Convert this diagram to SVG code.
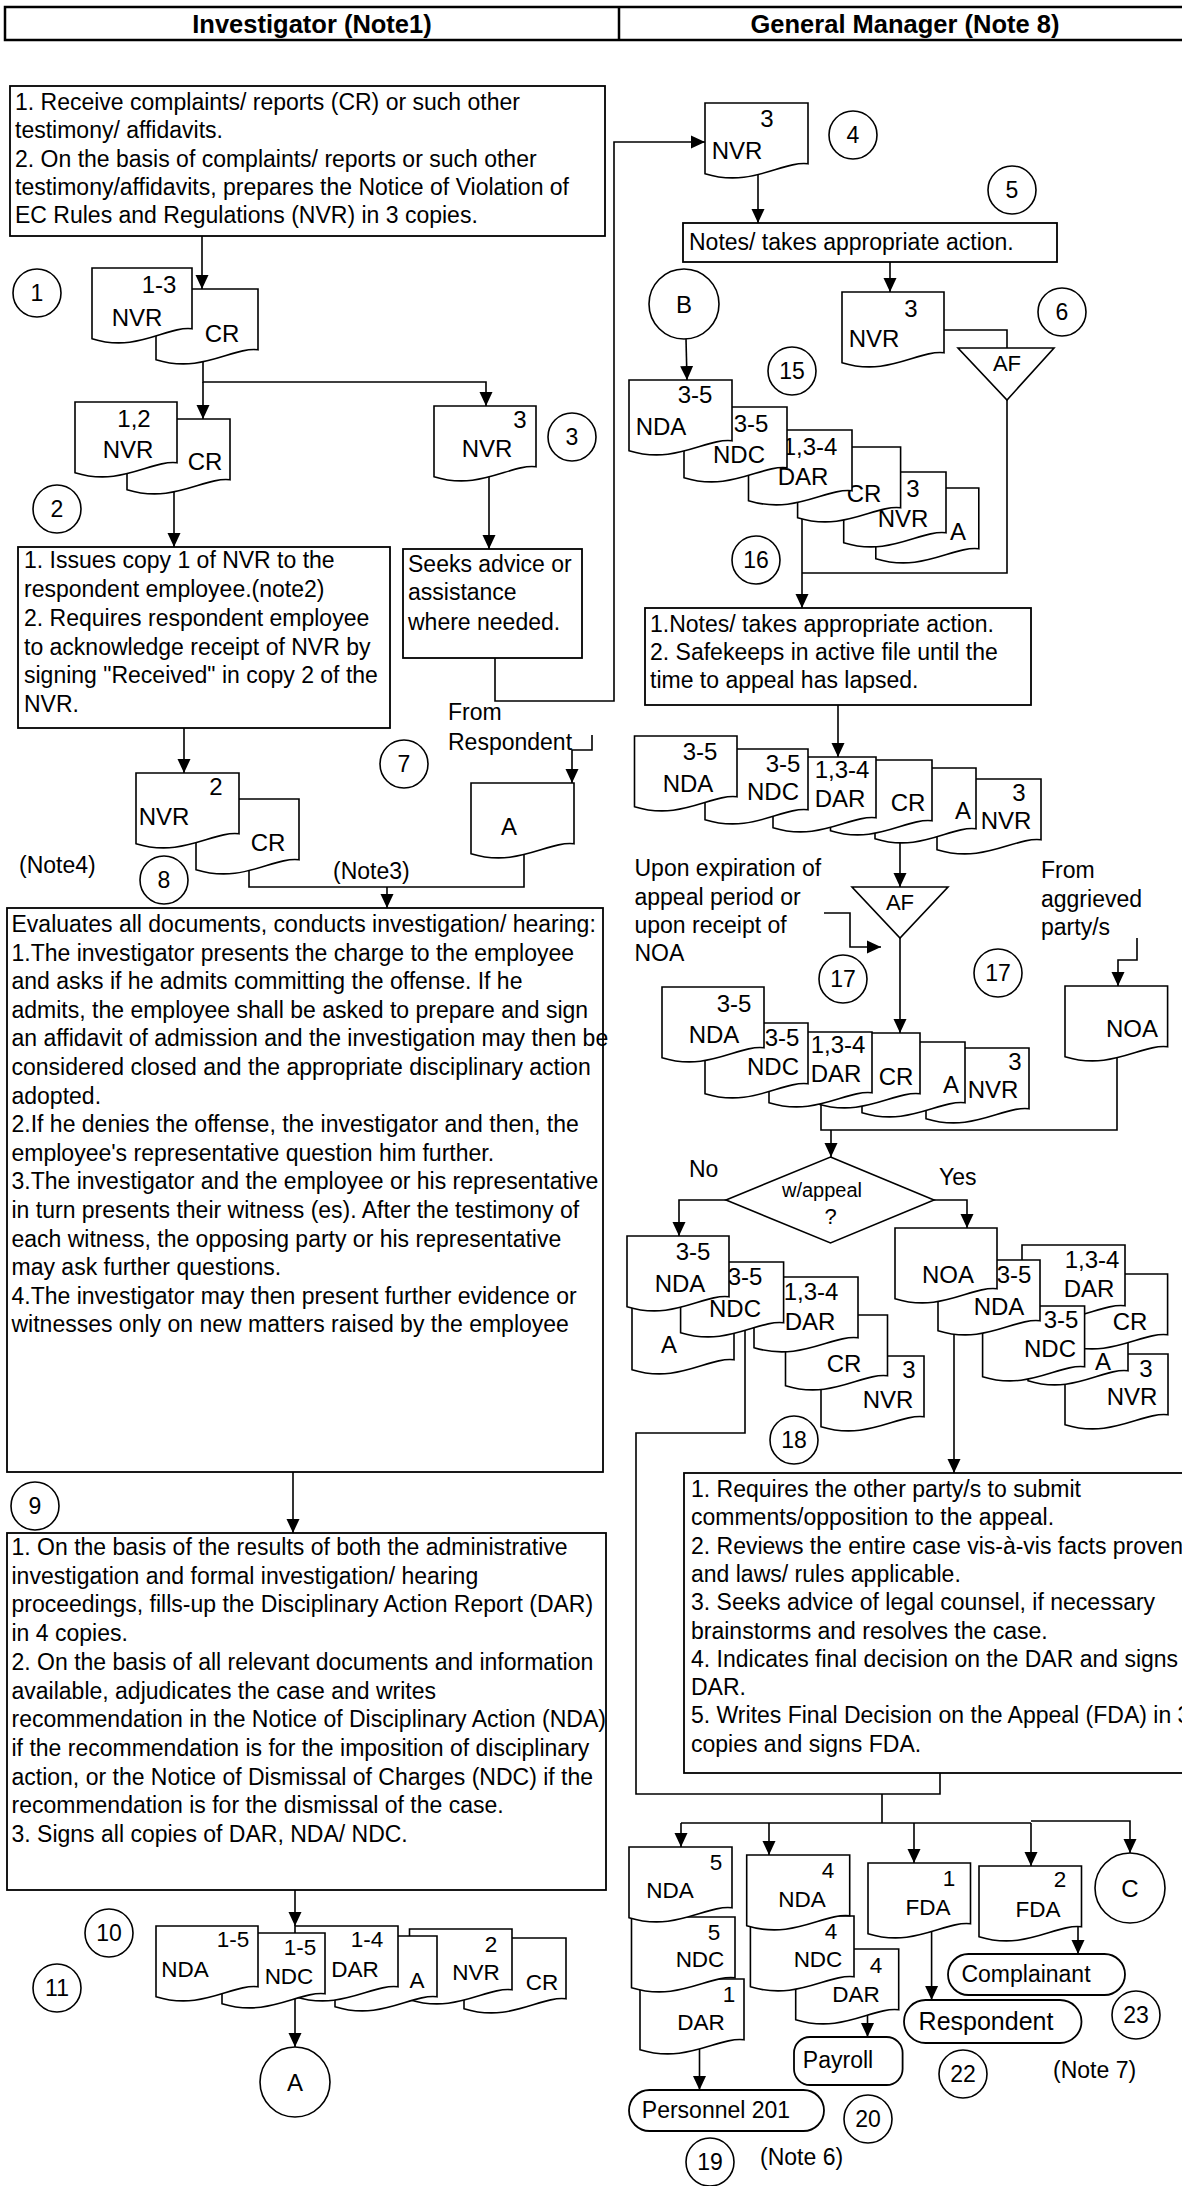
<svg xmlns="http://www.w3.org/2000/svg" width="1182" height="2186" viewBox="0 0 1182 2186">
<style>
text{font-family:"Liberation Sans",Arial,Helvetica,sans-serif;font-size:23px;fill:#000}
.h{font-weight:bold;font-size:25.5px;text-anchor:middle}
.d{font-size:24px;text-anchor:middle}
.ds{font-size:22.5px;text-anchor:middle}
.m{text-anchor:middle}
.c{text-anchor:middle;font-size:23px}
.bx{fill:#fff;stroke:#000;stroke-width:1.8}
.cir{fill:#fff;stroke:#000;stroke-width:1.6}
.cn path{fill:none;stroke:#000;stroke-width:1.6}
.ar{marker-end:url(#ah)}
</style>
<defs>
<symbol id="doc" viewBox="0 0 100 100" preserveAspectRatio="none" overflow="visible">
<path d="M0,0 H100 V80 C75,76 45,112 0,93 Z" fill="#fff" stroke="#000" stroke-width="1.6" vector-effect="non-scaling-stroke"/>
</symbol>
<marker id="ah" markerUnits="userSpaceOnUse" markerWidth="14" markerHeight="14" viewBox="0 0 14 14" refX="14" refY="7" orient="auto">
<path d="M0,0.5 L14,7 L0,13.5 Z" fill="#000"/>
</marker>
</defs>
<rect width="1182" height="2186" fill="#fff"/>

<g id="header">
<rect x="5" y="7" width="1190" height="33" fill="none" stroke="#000" stroke-width="2.5"/>
<line x1="619" y1="7" x2="619" y2="40" stroke="#000" stroke-width="2.5"/>
<text class="h" x="312" y="33">Investigator (Note1)</text>
<text class="h" x="905" y="33">General Manager (Note 8)</text>
</g>

<g id="connectors" class="cn">
<path class="ar" d="M202,236 V289"/>
<path class="ar" d="M203,355 V382 H486 V406"/>
<path class="ar" d="M203,382 V419"/>
<path class="ar" d="M174,485 V547"/>
<path class="ar" d="M489,470 V549"/>
<path class="ar" d="M495,658 V701 H614 V142 H705"/>
<path class="ar" d="M184,728 V773"/>
<path class="ar" d="M592,735 V750 H572 V783"/>
<path d="M249,860 V887 H524 V850"/>
<path class="ar" d="M387,887 V908"/>
<path class="ar" d="M293,1472 V1533"/>
<path class="ar" d="M295,1890 V1926"/>
<path class="ar" d="M295,1990 V2047"/>
<path class="ar" d="M758,170 V223"/>
<path class="ar" d="M890,262 V292"/>
<path d="M940,330 H1007 V348"/>
<path class="ar" d="M686,339 L687,380"/>
<path class="ar" d="M802,510 V608"/>
<path d="M1007,400 V573 H802"/>
<path class="ar" d="M838,705 V757"/>
<path class="ar" d="M900,835 V887"/>
<path class="ar" d="M824,913 H850 V947 H881"/>
<path class="ar" d="M900,938 V1033"/>
<path class="ar" d="M1137,938 V960 H1118 V986"/>
<path d="M1117,1050 V1130 H821 V1100"/>
<path class="ar" d="M831,1130 V1157"/>
<path class="ar" d="M726,1200 H679 V1236"/>
<path class="ar" d="M934,1200 H967 V1228"/>
<path d="M745,1320 V1433 H636 V1794 H940 V1773"/>
<path class="ar" d="M954,1325 V1473"/>
<path d="M882,1794 V1823 M681,1823 H1031"/>
<path class="ar" d="M681,1823 V1847"/>
<path class="ar" d="M769,1823 V1855"/>
<path class="ar" d="M914,1823 V1863"/>
<path class="ar" d="M1031,1823 V1866"/>
<path class="ar" d="M1031,1821 H1130 V1853"/>
<path class="ar" d="M699.5,2045 V2090"/>
<path class="ar" d="M867.5,2010 V2037"/>
<path class="ar" d="M931.6,1925 V2000"/>
<path class="ar" d="M1078,1925 V1954"/>
</g>

<g id="step1-box">
<rect class="bx" x="10" y="86" width="595" height="150"/>
<text x="15" y="110">1. Receive complaints/ reports (CR) or such other</text>
<text x="15" y="138">testimony/ affidavits.</text>
<text x="15" y="167">2. On the basis of complaints/ reports or such other</text>
<text x="15" y="195">testimony/affidavits, prepares the Notice of Violation of</text>
<text x="15" y="223">EC Rules and Regulations (NVR) in 3 copies.</text>
</g>

<g id="docs-1">
<use href="#doc" x="156" y="289" width="102" height="76"/>
<text class="d" x="222" y="342">CR</text>
<use href="#doc" x="92" y="268" width="100" height="76"/>
<text class="d" x="159" y="293">1-3</text>
<text class="d" x="137" y="326">NVR</text>
</g>

<g id="docs-2">
<use href="#doc" x="127" y="419" width="103" height="76"/>
<text class="d" x="205" y="470">CR</text>
<use href="#doc" x="75" y="402" width="102" height="76"/>
<text class="d" x="134" y="427">1,2</text>
<text class="d" x="128" y="458">NVR</text>
</g>

<g id="doc-3">
<use href="#doc" x="434" y="406" width="102" height="76"/>
<text class="d" x="520" y="428">3</text>
<text class="d" x="487" y="457">NVR</text>
</g>

<g id="step2-box">
<rect class="bx" x="18" y="547" width="372" height="181"/>
<text x="24" y="568">1. Issues copy 1 of NVR to the</text>
<text x="24" y="597">respondent employee.(note2)</text>
<text x="24" y="626">2. Requires respondent employee</text>
<text x="24" y="655">to acknowledge receipt of NVR by</text>
<text x="24" y="683">signing "Received" in copy 2 of the</text>
<text x="24" y="712">NVR.</text>
</g>

<g id="step3-box">
<rect class="bx" x="403" y="549" width="179" height="109"/>
<text x="408" y="572">Seeks advice or</text>
<text x="408" y="600">assistance</text>
<text x="408" y="630">where needed.</text>
</g>

<g id="label-from-respondent">
<text x="448" y="720">From</text>
<text x="448" y="750">Respondent</text>
</g>

<g id="doc-7">
<use href="#doc" x="471" y="783" width="103" height="76"/>
<text class="d" x="509" y="835">A</text>
</g>

<g id="docs-8">
<use href="#doc" x="196" y="799" width="103" height="76"/>
<text class="d" x="268" y="851">CR</text>
<use href="#doc" x="136" y="773" width="103" height="76"/>
<text class="d" x="216" y="795">2</text>
<text class="d" x="164" y="825">NVR</text>
</g>

<g id="notes-left">
<text x="19" y="873">(Note4)</text>
<text x="333" y="879">(Note3)</text>
</g>

<g id="step8-box">
<rect class="bx" x="7" y="908" width="596" height="564"/>
<text x="11.5" y="932">Evaluates all documents, conducts investigation/ hearing:</text>
<text x="11.5" y="960.6">1.The investigator presents the charge to the employee</text>
<text x="11.5" y="989.2">and asks if he admits committing the offense.  If he</text>
<text x="11.5" y="1017.8">admits, the employee shall be asked to prepare and sign</text>
<text x="11.5" y="1046.4">an affidavit of admission and the investigation may then be</text>
<text x="11.5" y="1075">considered closed and the appropriate disciplinary action</text>
<text x="11.5" y="1103.6">adopted.</text>
<text x="11.5" y="1132.2">2.If he denies the offense, the investigator and then, the</text>
<text x="11.5" y="1160.8">employee's representative question him further.</text>
<text x="11.5" y="1189.4">3.The investigator and the employee or his representative</text>
<text x="11.5" y="1218">in turn presents their witness (es). After the testimony of</text>
<text x="11.5" y="1246.6">each witness, the opposing party or his representative</text>
<text x="11.5" y="1275.2">may ask further questions.</text>
<text x="11.5" y="1303.8">4.The investigator may then present further evidence or</text>
<text x="11.5" y="1332.4">witnesses only on new matters raised by the employee</text>
</g>

<g id="step9-box">
<rect class="bx" x="7" y="1533" width="599" height="357"/>
<text x="11.5" y="1555">1. On the basis of the results of both the administrative</text>
<text x="11.5" y="1583.7">investigation and formal investigation/ hearing</text>
<text x="11.5" y="1612.4">proceedings, fills-up the Disciplinary Action Report (DAR)</text>
<text x="11.5" y="1641.1">in 4 copies.</text>
<text x="11.5" y="1669.8">2. On the basis of all relevant documents and information</text>
<text x="11.5" y="1698.5">available, adjudicates the case and writes</text>
<text x="11.5" y="1727.2">recommendation in the Notice of Disciplinary Action (NDA)</text>
<text x="11.5" y="1755.9">if the recommendation is for the imposition of disciplinary</text>
<text x="11.5" y="1784.6">action, or the Notice of Dismissal of Charges (NDC) if the</text>
<text x="11.5" y="1813.3">recommendation is for the dismissal of the case.</text>
<text x="11.5" y="1842">3. Signs all copies of DAR, NDA/ NDC.</text>
</g>

<g id="docs-11">
<use href="#doc" x="464" y="1938" width="102" height="76"/>
<text class="ds" x="542" y="1990">CR</text>
<use href="#doc" x="409.5" y="1929" width="102.5" height="76"/>
<text class="ds" x="491" y="1952">2</text>
<text class="ds" x="476" y="1980">NVR</text>
<use href="#doc" x="335" y="1936" width="102" height="76"/>
<text class="ds" x="417" y="1988">A</text>
<use href="#doc" x="295" y="1926" width="103" height="76"/>
<text class="ds" x="367" y="1947">1-4</text>
<text class="ds" x="355" y="1977">DAR</text>
<use href="#doc" x="222" y="1933" width="103" height="76"/>
<text class="ds" x="300" y="1955">1-5</text>
<text class="ds" x="289" y="1984">NDC</text>
<use href="#doc" x="156" y="1926" width="102" height="76"/>
<text class="ds" x="233" y="1947">1-5</text>
<text class="ds" x="185" y="1977">NDA</text>
</g>

<g id="conn-A">
<circle class="cir" cx="295" cy="2082" r="35"/>
<text class="m" x="295" y="2091" style="font-size:24px">A</text>
</g>

<g id="doc-4">
<use href="#doc" x="705" y="103" width="103" height="76"/>
<text class="d" x="767" y="127">3</text>
<text class="d" x="737" y="159">NVR</text>
</g>

<g id="step5-box">
<rect class="bx" x="683" y="223" width="374" height="39"/>
<text x="689" y="250">Notes/ takes appropriate action.</text>
</g>

<g id="doc-6">
<use href="#doc" x="842" y="292" width="102" height="76"/>
<text class="d" x="911" y="317">3</text>
<text class="d" x="874" y="347">NVR</text>
</g>

<g id="af-6">
<polygon points="958,348 1054,348 1007,400" fill="#fff" stroke="#000" stroke-width="1.6"/>
<text class="m" x="1007" y="371" style="font-size:22px">AF</text>
</g>

<g id="conn-B">
<circle class="cir" cx="684" cy="304" r="35"/>
<text class="m" x="684" y="313" style="font-size:24px">B</text>
</g>

<g id="docs-15">
<use href="#doc" x="875.8" y="488" width="103" height="76"/>
<text class="d" x="958" y="540">A</text>
<use href="#doc" x="843.7" y="472" width="102.3" height="76"/>
<text class="d" x="913" y="497">3</text>
<text class="d" x="903" y="527">NVR</text>
<use href="#doc" x="797.6" y="447" width="103" height="76"/>
<text class="d" x="864" y="502">CR</text>
<use href="#doc" x="748.5" y="430" width="103.5" height="76"/>
<text class="d" x="810" y="455">1,3-4</text>
<text class="d" x="803" y="485">DAR</text>
<use href="#doc" x="684" y="407" width="103" height="76"/>
<text class="d" x="751" y="432">3-5</text>
<text class="d" x="739" y="463">NDC</text>
<use href="#doc" x="629" y="380" width="103" height="76"/>
<text class="d" x="695" y="403">3-5</text>
<text class="d" x="661" y="435">NDA</text>
</g>

<g id="step16-box">
<rect class="bx" x="645" y="608" width="386" height="97"/>
<text x="650" y="632">1.Notes/ takes appropriate action.</text>
<text x="650" y="660">2. Safekeeps in active file until the</text>
<text x="650" y="688">time to appeal has lapsed.</text>
</g>

<g id="docs-16">
<use href="#doc" x="937" y="779" width="104" height="76"/>
<text class="d" x="1019" y="801">3</text>
<text class="d" x="1006" y="829">NVR</text>
<use href="#doc" x="875" y="768" width="101" height="76"/>
<text class="d" x="963" y="819">A</text>
<use href="#doc" x="830.5" y="760" width="101.5" height="76"/>
<text class="d" x="908" y="811">CR</text>
<use href="#doc" x="773" y="757" width="103" height="76"/>
<text class="d" x="842" y="778">1,3-4</text>
<text class="d" x="840" y="807">DAR</text>
<use href="#doc" x="705" y="749" width="103" height="76"/>
<text class="d" x="783" y="772">3-5</text>
<text class="d" x="773" y="800">NDC</text>
<use href="#doc" x="634.5" y="736" width="102.5" height="76"/>
<text class="d" x="700" y="760">3-5</text>
<text class="d" x="688" y="792">NDA</text>
</g>

<g id="af-17">
<polygon points="852,887 948,887 900,938" fill="#fff" stroke="#000" stroke-width="1.6"/>
<text class="m" x="900" y="910" style="font-size:22px">AF</text>
</g>

<g id="label-expiration">
<text x="634.5" y="876">Upon expiration of</text>
<text x="634.5" y="905">appeal period or</text>
<text x="634.5" y="933">upon receipt of</text>
<text x="634.5" y="961">NOA</text>
</g>

<g id="label-aggrieved">
<text x="1041" y="878">From</text>
<text x="1041" y="907">aggrieved</text>
<text x="1041" y="935">party/s</text>
</g>

<g id="doc-noa">
<use href="#doc" x="1065" y="986" width="102.6" height="76"/>
<text class="d" x="1132" y="1037">NOA</text>
</g>

<g id="docs-17">
<use href="#doc" x="926" y="1048" width="103" height="76"/>
<text class="d" x="1015" y="1070">3</text>
<text class="d" x="993" y="1098">NVR</text>
<use href="#doc" x="862" y="1042" width="103" height="76"/>
<text class="d" x="951" y="1093">A</text>
<use href="#doc" x="817" y="1033" width="103" height="76"/>
<text class="d" x="896" y="1085">CR</text>
<use href="#doc" x="769" y="1032" width="103" height="76"/>
<text class="d" x="838" y="1053">1,3-4</text>
<text class="d" x="836" y="1082">DAR</text>
<use href="#doc" x="705" y="1023" width="103" height="76"/>
<text class="d" x="782" y="1046">3-5</text>
<text class="d" x="773" y="1075">NDC</text>
<use href="#doc" x="662" y="987" width="102" height="76"/>
<text class="d" x="734" y="1012">3-5</text>
<text class="d" x="714" y="1043">NDA</text>
</g>

<g id="decision">
<polygon points="830.5,1157 934,1200 830.5,1243 726,1200" fill="#fff" stroke="#000" stroke-width="1.6"/>
<text class="m" x="822" y="1197" style="font-size:20px">w/appeal</text>
<text class="m" x="830.5" y="1224" style="font-size:22px">?</text>
<text x="689" y="1177">No</text>
<text x="939" y="1185">Yes</text>
</g>

<g id="docs-18-no">
<use href="#doc" x="821" y="1356" width="103" height="76"/>
<text class="d" x="909" y="1378">3</text>
<text class="d" x="888" y="1408">NVR</text>
<use href="#doc" x="785.5" y="1315" width="102" height="76"/>
<text class="d" x="844" y="1372">CR</text>
<use href="#doc" x="754" y="1277" width="104" height="76"/>
<text class="d" x="811" y="1300">1,3-4</text>
<text class="d" x="810" y="1330">DAR</text>
<use href="#doc" x="632" y="1299" width="102" height="76"/>
<text class="d" x="669" y="1353">A</text>
<use href="#doc" x="680.6" y="1262" width="103" height="76"/>
<text class="d" x="745" y="1285">3-5</text>
<text class="d" x="735" y="1317">NDC</text>
<use href="#doc" x="627" y="1236" width="102" height="76"/>
<text class="d" x="693" y="1260">3-5</text>
<text class="d" x="680" y="1292">NDA</text>
</g>

<g id="docs-18-yes">
<use href="#doc" x="1065" y="1354" width="103" height="76"/>
<text class="d" x="1146" y="1377">3</text>
<text class="d" x="1132" y="1405">NVR</text>
<use href="#doc" x="1028" y="1310" width="100" height="76"/>
<text class="d" x="1103" y="1370">A</text>
<use href="#doc" x="1064.6" y="1274" width="103" height="76"/>
<text class="d" x="1130" y="1330">CR</text>
<use href="#doc" x="1022" y="1245" width="103" height="76"/>
<text class="d" x="1092" y="1268">1,3-4</text>
<text class="d" x="1089" y="1297">DAR</text>
<use href="#doc" x="982.6" y="1306" width="102" height="76"/>
<text class="d" x="1061" y="1328">3-5</text>
<text class="d" x="1050" y="1357">NDC</text>
<use href="#doc" x="938" y="1260" width="102" height="76"/>
<text class="d" x="1014" y="1283">3-5</text>
<text class="d" x="999" y="1315">NDA</text>
<use href="#doc" x="895" y="1228" width="102" height="76"/>
<text class="d" x="948" y="1283">NOA</text>
</g>

<g id="step18-box">
<rect class="bx" x="684" y="1473" width="510" height="300"/>
<text x="691" y="1497">1. Requires the other party/s to submit</text>
<text x="691" y="1525.3">comments/opposition to the appeal.</text>
<text x="691" y="1553.6">2. Reviews the entire case vis-à-vis facts proven</text>
<text x="691" y="1581.9">and laws/ rules applicable.</text>
<text x="691" y="1610.2">3. Seeks advice of legal counsel, if necessary</text>
<text x="691" y="1638.5">brainstorms and resolves the case.</text>
<text x="691" y="1666.8">4. Indicates final decision on the DAR and signs</text>
<text x="691" y="1695.1">DAR.</text>
<text x="691" y="1723.4">5. Writes Final Decision on the Appeal (FDA) in 3</text>
<text x="691" y="1751.7">copies and signs FDA.</text>
</g>

<g id="docs-19">
<use href="#doc" x="640" y="1979" width="104" height="76"/>
<text class="ds" x="729" y="2002">1</text>
<text class="ds" x="701" y="2030">DAR</text>
<use href="#doc" x="631.5" y="1917" width="103.5" height="76"/>
<text class="ds" x="714" y="1940">5</text>
<text class="ds" x="700" y="1967">NDC</text>
<use href="#doc" x="629" y="1847" width="103" height="76"/>
<text class="ds" x="716" y="1870">5</text>
<text class="ds" x="670" y="1898">NDA</text>
</g>

<g id="docs-20">
<use href="#doc" x="795.7" y="1949" width="103" height="76"/>
<text class="ds" x="876" y="1973">4</text>
<text class="ds" x="856" y="2002">DAR</text>
<use href="#doc" x="750.4" y="1916" width="103.6" height="76"/>
<text class="ds" x="831" y="1939">4</text>
<text class="ds" x="818" y="1967">NDC</text>
<use href="#doc" x="746.7" y="1855" width="103" height="76"/>
<text class="ds" x="828" y="1878">4</text>
<text class="ds" x="802" y="1907">NDA</text>
</g>

<g id="doc-fda1">
<use href="#doc" x="868" y="1863" width="102.5" height="76"/>
<text class="ds" x="949" y="1886">1</text>
<text class="ds" x="928" y="1915">FDA</text>
</g>

<g id="doc-fda2">
<use href="#doc" x="979" y="1866" width="102.5" height="76"/>
<text class="ds" x="1060" y="1887">2</text>
<text class="ds" x="1038" y="1917">FDA</text>
</g>

<g id="conn-C">
<circle class="cir" cx="1130" cy="1888" r="35"/>
<text class="m" x="1130" y="1897" style="font-size:24px">C</text>
</g>

<g id="term-personnel">
<rect class="bx" x="629" y="2090" width="195" height="41" rx="20.5"/>
<text class="m" x="716" y="2118">Personnel 201</text>
</g>
<g id="term-payroll">
<rect class="bx" x="794" y="2037" width="108.6" height="48" rx="16"/>
<text class="m" x="838" y="2068">Payroll</text>
</g>
<g id="term-respondent">
<rect class="bx" x="904" y="2000" width="177.5" height="43" rx="21.5"/>
<text class="m" x="986" y="2030" style="font-size:25px">Respondent</text>
</g>
<g id="term-complainant">
<rect class="bx" x="948" y="1954" width="177" height="41" rx="20.5"/>
<text class="m" x="1026" y="1982">Complainant</text>
</g>

<g id="notes-right">
<text x="760" y="2165">(Note 6)</text>
<text x="1053" y="2078">(Note 7)</text>
</g>

<g id="step-numbers">
<circle class="cir" cx="37" cy="293" r="24"/><text class="c" x="37" y="301">1</text>
<circle class="cir" cx="57" cy="509" r="24"/><text class="c" x="57" y="517">2</text>
<circle class="cir" cx="572" cy="437" r="24"/><text class="c" x="572" y="445">3</text>
<circle class="cir" cx="853" cy="135" r="24"/><text class="c" x="853" y="143">4</text>
<circle class="cir" cx="1012" cy="190" r="24"/><text class="c" x="1012" y="198">5</text>
<circle class="cir" cx="1062" cy="312" r="24"/><text class="c" x="1062" y="320">6</text>
<circle class="cir" cx="404" cy="764" r="24"/><text class="c" x="404" y="772">7</text>
<circle class="cir" cx="164" cy="880" r="24"/><text class="c" x="164" y="888">8</text>
<circle class="cir" cx="35" cy="1506" r="24"/><text class="c" x="35" y="1514">9</text>
<circle class="cir" cx="109" cy="1933" r="24"/><text class="c" x="109" y="1941">10</text>
<circle class="cir" cx="57" cy="1988" r="24"/><text class="c" x="57" y="1996">11</text>
<circle class="cir" cx="792" cy="371" r="24"/><text class="c" x="792" y="379">15</text>
<circle class="cir" cx="756" cy="560" r="24"/><text class="c" x="756" y="568">16</text>
<circle class="cir" cx="843" cy="979" r="24"/><text class="c" x="843" y="987">17</text>
<circle class="cir" cx="998" cy="973" r="24"/><text class="c" x="998" y="981">17</text>
<circle class="cir" cx="794" cy="1440" r="24"/><text class="c" x="794" y="1448">18</text>
<circle class="cir" cx="710" cy="2162" r="24"/><text class="c" x="710" y="2170">19</text>
<circle class="cir" cx="868" cy="2119" r="24"/><text class="c" x="868" y="2127">20</text>
<circle class="cir" cx="963" cy="2074" r="24"/><text class="c" x="963" y="2082">22</text>
<circle class="cir" cx="1136" cy="2015" r="24"/><text class="c" x="1136" y="2023">23</text>
</g>
</svg>
